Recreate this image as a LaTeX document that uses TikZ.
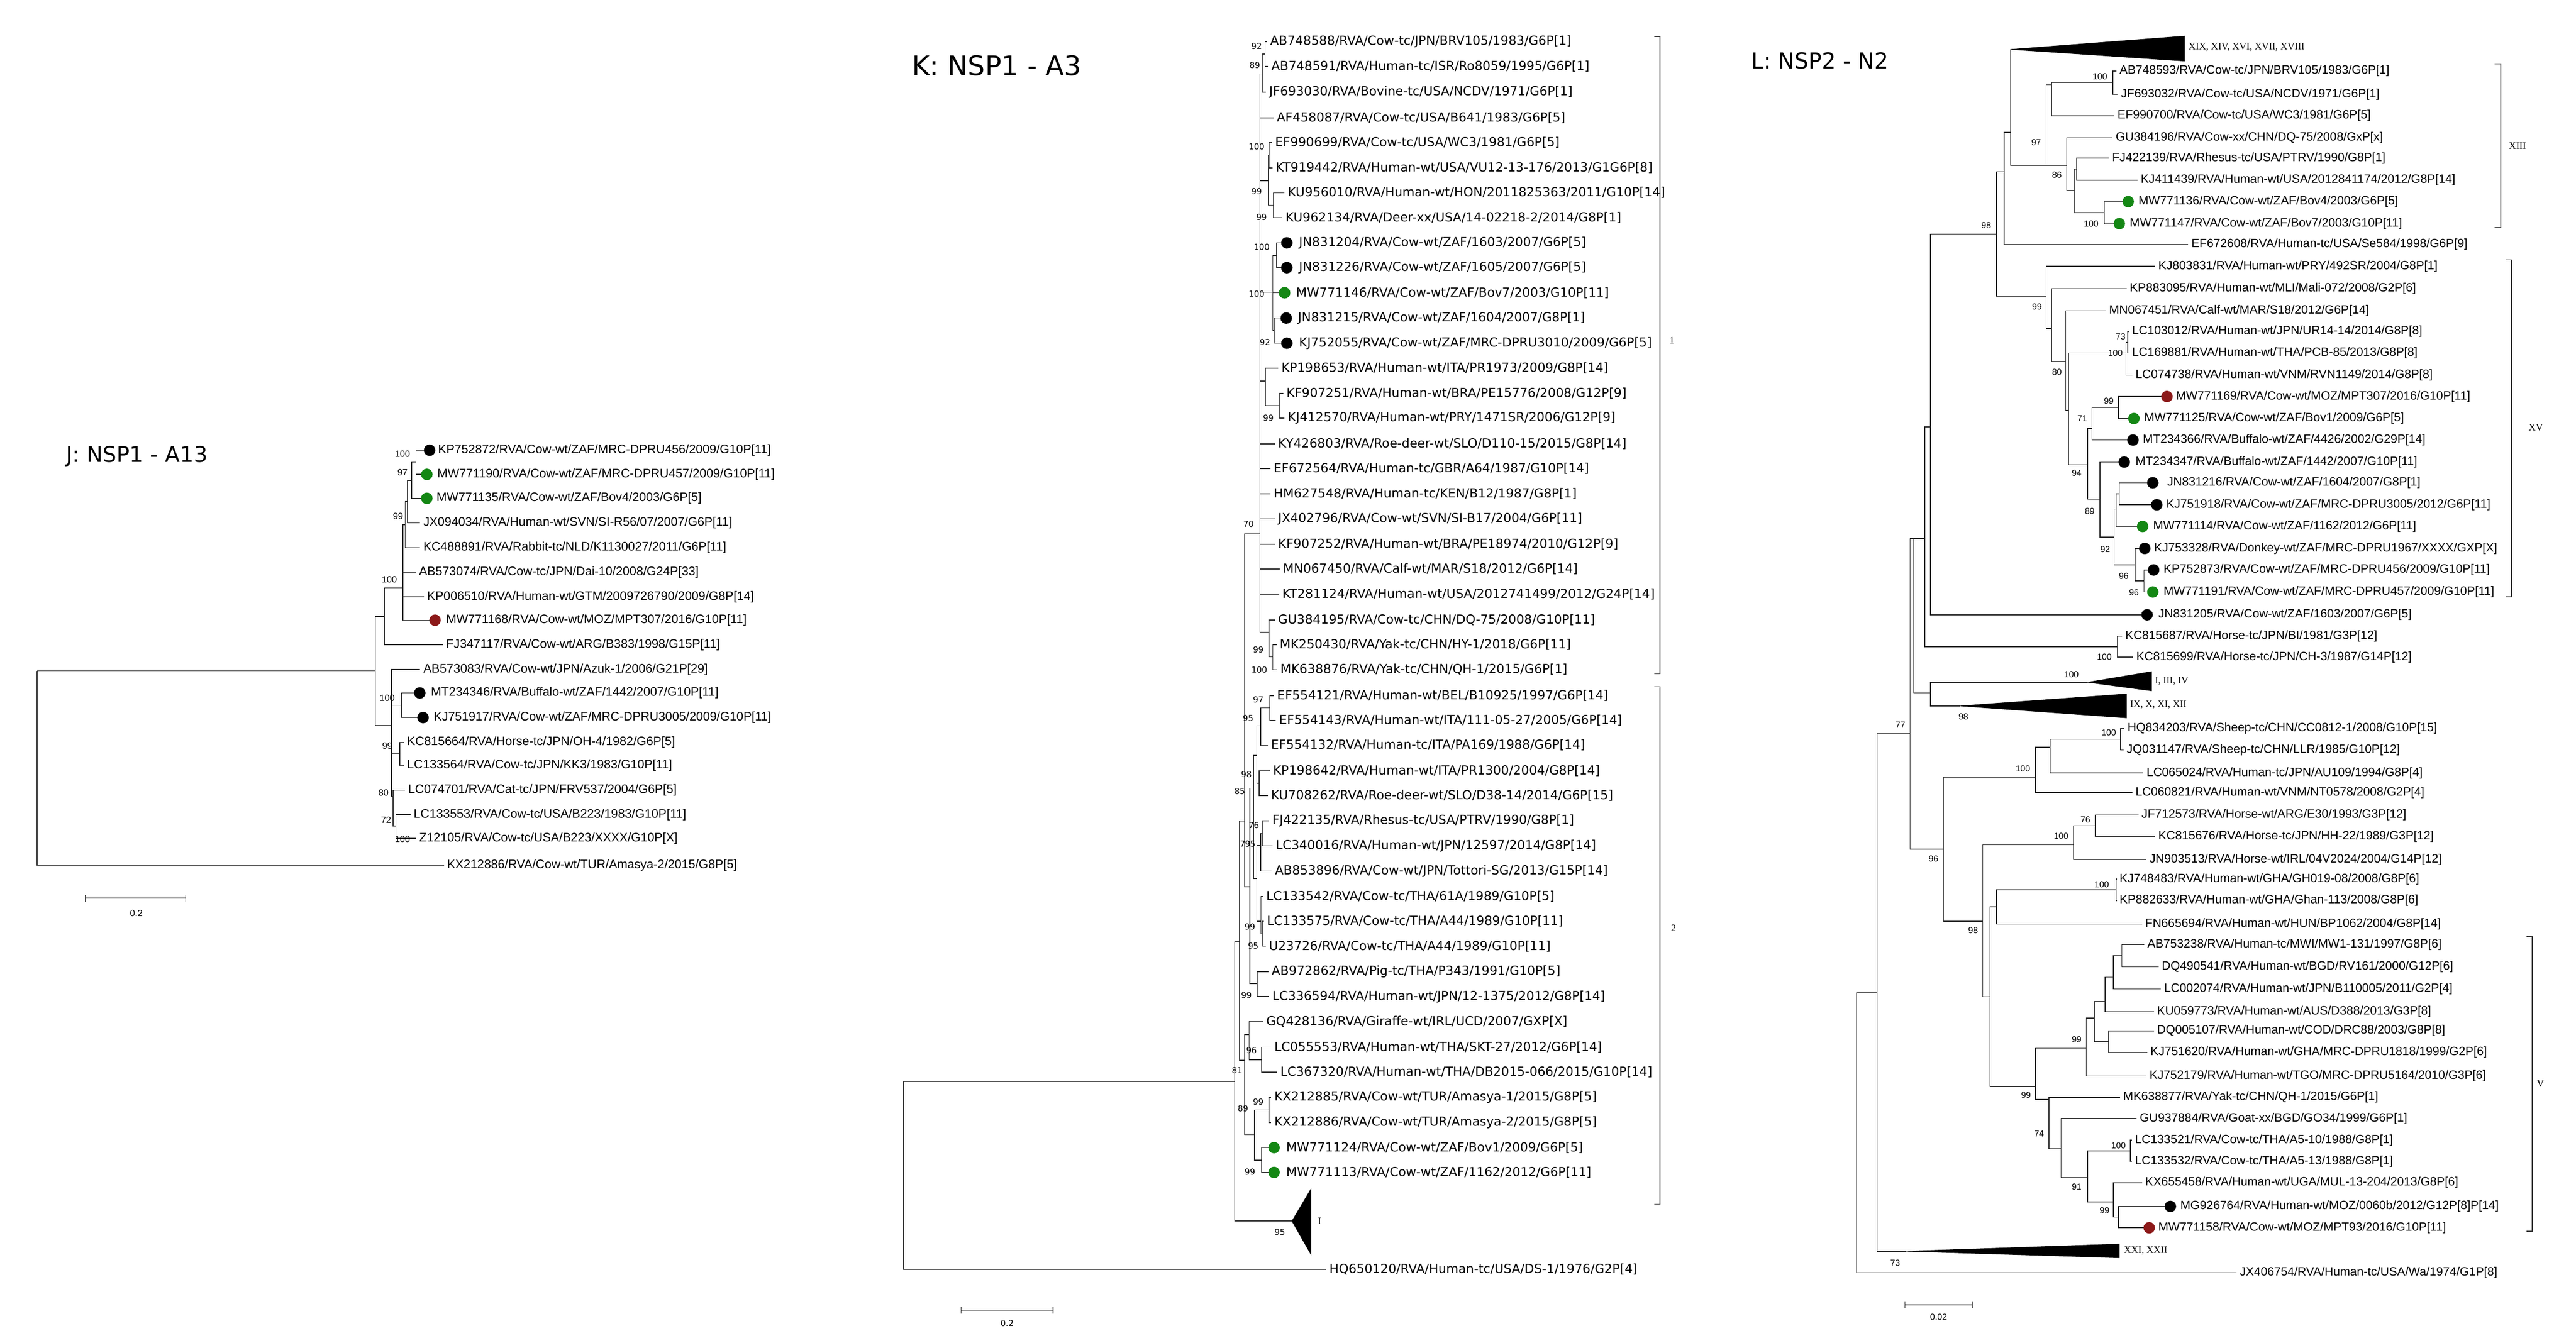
\documentclass[tikz,border=0pt]{standalone}
\usepackage{fontspec}
\setmainfont{Liberation Sans}
\newfontfamily\dv{DejaVu Sans}
\newfontfamily\lsans{Liberation Sans}
\newfontfamily\lser{Liberation Serif}
\definecolor{dgreen}{RGB}{20,135,20}
\definecolor{dred}{RGB}{140,25,25}
\newcounter{bsc}
\newcommand\pl[5]{\coordinate (#1) at ({#2-1.8},#3); \node[#5] (#1-t) at (#2,#3) {#4};}
\newcommand\dl[7]{\coordinate (#1) at ({#2-3.4},#3); \node[dotn,fill=#7] (#1-d) at (#2,#3) {}; \node[#6] (#1-t) at (#4,#3) {#5};}
\newcommand\bs[4]{\stepcounter{bsc}\node[#4] (bs\arabic{bsc}) at (#1,#2) {#3};}
\newcommand\brs[2]{\foreach \c in {#2}{\draw[brl] (#1) |- (\c);}}
\tikzset{
 brl/.style={line width=0.5pt,black!85},
 dotn/.style={circle,inner sep=0pt,minimum size=7pt,draw=none},
 jl/.style={font={\fontsize{7.5}{8}\selectfont\lsans},anchor=west,inner sep=0pt},
 kl/.style={font={\fontsize{7.6}{8}\selectfont\dv},anchor=west,inner sep=0pt},
 ll/.style={font={\fontsize{7.35}{8}\selectfont\lsans},anchor=west,inner sep=0pt},
 jb/.style={font={\fontsize{5.5}{6}\selectfont\lsans},inner sep=0pt},
 kb/.style={font={\fontsize{5}{6}\selectfont\dv},inner sep=0pt},
 lb/.style={font={\fontsize{5.3}{6}\selectfont\lsans},inner sep=0pt},
 trl/.style={font={\fontsize{6}{7}\selectfont\lser},anchor=west,inner sep=0pt},
 ttl/.style={font=\dv,anchor=west,inner sep=0pt},
 tri/.style={fill=black,draw=black,line width=0.3pt},
 brk/.style={line width=0.5pt,black!80},
}
\begin{document}
\begin{tikzpicture}[x=1pt,y=-1pt]
\useasboundingbox[fill=white] (0,0) rectangle (1568,817.8);
%% ================= J =================
\node[ttl,font={\fontsize{13.2}{15}\selectfont\dv}] (jtitle) at (40,278) {J: NSP1 - A13};
\dl{jl1}{261.5}{274.2}{266.5}{KP752872/RVA/Cow-wt/ZAF/MRC-DPRU456/2009/G10P[11]}{jl}{black}
\dl{jl2}{259.8}{288.9}{266}{MW771190/RVA/Cow-wt/ZAF/MRC-DPRU457/2009/G10P[11]}{jl}{dgreen}
\dl{jl3}{259.8}{303.5}{265.5}{MW771135/RVA/Cow-wt/ZAF/Bov4/2003/G6P[5]}{jl}{dgreen}
\pl{jl4}{257.5}{318.5}{JX094034/RVA/Human-wt/SVN/SI-R56/07/2007/G6P[11]}{jl}
\pl{jl5}{257.5}{333.5}{KC488891/RVA/Rabbit-tc/NLD/K1130027/2011/G6P[11]}{jl}
\pl{jl6}{254.9}{348.5}{AB573074/RVA/Cow-tc/JPN/Dai-10/2008/G24P[33]}{jl}
\pl{jl7}{259.8}{363.5}{KP006510/RVA/Human-wt/GTM/2009726790/2009/G8P[14]}{jl}
\dl{jl8}{264.8}{377.7}{271.4}{MW771168/RVA/Cow-wt/MOZ/MPT307/2016/G10P[11]}{jl}{dred}
\pl{jl9}{271.4}{392.7}{FJ347117/RVA/Cow-wt/ARG/B383/1998/G15P[11]}{jl}
\pl{jl10}{257.5}{407.7}{AB573083/RVA/Cow-wt/JPN/Azuk-1/2006/G21P[29]}{jl}
\dl{jl11}{255.5}{422}{262.2}{MT234346/RVA/Buffalo-wt/ZAF/1442/2007/G10P[11]}{jl}{black}
\dl{jl12}{257.5}{437}{263.8}{KJ751917/RVA/Cow-wt/ZAF/MRC-DPRU3005/2009/G10P[11]}{jl}{black}
\pl{jl13}{247.6}{452}{KC815664/RVA/Horse-tc/JPN/OH-4/1982/G6P[5]}{jl}
\pl{jl14}{247.6}{466.2}{LC133564/RVA/Cow-tc/JPN/KK3/1983/G10P[11]}{jl}
\pl{jl15}{248.3}{481.2}{LC074701/RVA/Cat-tc/JPN/FRV537/2004/G6P[5]}{jl}
\pl{jl16}{251.6}{496.2}{LC133553/RVA/Cow-tc/USA/B223/1983/G10P[11]}{jl}
\pl{jl17}{255}{510.5}{Z12105/RVA/Cow-tc/USA/B223/XXXX/G10P[X]}{jl}
\pl{jl18}{272}{527}{KX212886/RVA/Cow-wt/TUR/Amasya-2/2015/G8P[5]}{jl}
\coordinate (jR) at (22.5,408.5);
\coordinate (jA) at (228.4,408.5);
\coordinate (jUp) at (234,375.3);
\coordinate (jB100) at (245.3,358);
\coordinate (j99b) at (246.6,319.5);
\coordinate (j99a) at (248,305.5);
\coordinate (j97) at (250.6,292.5);
\coordinate (j100a) at (253.2,281.5);
\coordinate (jB) at (238.3,441.7);
\coordinate (j100c) at (244.3,429.5);
\coordinate (j99c) at (243.3,459);
\coordinate (j80) at (239.3,485);
\coordinate (j72) at (241,503);
\brs{j100a}{jl1,jl2}
\brs{j97}{j100a,jl3}
\brs{j99a}{j97,jl4}
\brs{j99b}{j99a,jl5}
\brs{jB100}{j99b,jl6,jl7,jl8}
\brs{jUp}{jB100,jl9}
\brs{jA}{jUp,jB}
\brs{jB}{jl10,j100c,j99c,j80}
\brs{j100c}{jl11,jl12}
\brs{j99c}{jl13,jl14}
\brs{j80}{jl15,j72}
\brs{j72}{jl16,jl17}
\brs{jR}{jA,jl18}
\bs{245}{276.3}{100}{jb}\bs{245}{287.7}{97}{jb}\bs{242.3}{314.5}{99}{jb}
\bs{237}{352.9}{100}{jb}\bs{235.7}{425.1}{100}{jb}\bs{235.7}{454.3}{99}{jb}
\bs{233.4}{482.8}{80}{jb}\bs{235}{499.4}{72}{jb}\bs{245}{511}{100}{jb}
\coordinate (jsb1) at (52,547); \coordinate (jsb2) at (113,547);
\draw[brl] (jsb1) -- (jsb2);
\draw[brl] (52,545) -- (52,549) (113,545) -- (113,549);
\node[jb] (jsbl) at (83,556) {0.2};
%% ================= K =================
\node[ttl,font={\fontsize{16.5}{18}\selectfont\dv}] (ktitle) at (555,40) {K: NSP1 - A3};
\pl{kAB1}{773}{25.4}{AB748588/RVA/Cow-tc/JPN/BRV105/1983/G6P[1]}{kl}
\pl{kAB2}{773.7}{40.5}{AB748591/RVA/Human-tc/ISR/Ro8059/1995/G6P[1]}{kl}
\pl{kJF}{772.4}{56.2}{JF693030/RVA/Bovine-tc/USA/NCDV/1971/G6P[1]}{kl}
\pl{kAF}{777}{71.8}{AF458087/RVA/Cow-tc/USA/B641/1983/G6P[5]}{kl}
\pl{kEF}{776}{86.9}{EF990699/RVA/Cow-tc/USA/WC3/1981/G6P[5]}{kl}
\pl{kKT}{776.3}{102.3}{KT919442/RVA/Human-wt/USA/VU12-13-176/2013/G1G6P[8]}{kl}
\pl{kKU1}{783.7}{117.4}{KU956010/RVA/Human-wt/HON/2011825363/2011/G10P[14]}{kl}
\pl{kKU2}{782.3}{132.5}{KU962134/RVA/Deer-xx/USA/14-02218-2/2014/G8P[1]}{kl}
\dl{kJN04}{783.3}{147.9}{790.5}{JN831204/RVA/Cow-wt/ZAF/1603/2007/G6P[5]}{kl}{black}
\dl{kJN26}{783.3}{163}{790.5}{JN831226/RVA/Cow-wt/ZAF/1605/2007/G6P[5]}{kl}{black}
\dl{kMW46}{781.9}{178.3}{788.8}{MW771146/RVA/Cow-wt/ZAF/Bov7/2003/G10P[11]}{kl}{dgreen}
\dl{kJN15}{782.9}{193.7}{789.9}{JN831215/RVA/Cow-wt/ZAF/1604/2007/G8P[1]}{kl}{black}
\dl{kKJ55}{783.3}{209}{790.5}{KJ752055/RVA/Cow-wt/ZAF/MRC-DPRU3010/2009/G6P[5]}{kl}{black}
\pl{kKP53}{779.8}{224.2}{KP198653/RVA/Human-wt/ITA/PR1973/2009/G8P[14]}{kl}
\pl{kKF51}{782.9}{239.6}{KF907251/RVA/Human-wt/BRA/PE15776/2008/G12P[9]}{kl}
\pl{kKJ12}{783.7}{254.7}{KJ412570/RVA/Human-wt/PRY/1471SR/2006/G12P[9]}{kl}
\pl{kKY}{777.8}{270.3}{KY426803/RVA/Roe-deer-wt/SLO/D110-15/2015/G8P[14]}{kl}
\pl{kEF64}{775.1}{285.4}{EF672564/RVA/Human-tc/GBR/A64/1987/G10P[14]}{kl}
\pl{kHM}{775.1}{300.8}{HM627548/RVA/Human-tc/KEN/B12/1987/G8P[1]}{kl}
\pl{kJX}{777.8}{315.9}{JX402796/RVA/Cow-wt/SVN/SI-B17/2004/G6P[11]}{kl}
\pl{kKF52}{777.8}{331.5}{KF907252/RVA/Human-wt/BRA/PE18974/2010/G12P[9]}{kl}
\pl{kMN}{780.8}{346.6}{MN067450/RVA/Calf-wt/MAR/S18/2012/G6P[14]}{kl}
\pl{kKT24}{780.4}{362}{KT281124/RVA/Human-wt/USA/2012741499/2012/G24P[14]}{kl}
\pl{kGU}{777.8}{377.6}{GU384195/RVA/Cow-tc/CHN/DQ-75/2008/G10P[11]}{kl}
\pl{kMK30}{778.8}{392.7}{MK250430/RVA/Yak-tc/CHN/HY-1/2018/G6P[11]}{kl}
\pl{kMK76}{779.2}{407.8}{MK638876/RVA/Yak-tc/CHN/QH-1/2015/G6P[1]}{kl}
\pl{kEF21}{777.2}{423.6}{EF554121/RVA/Human-wt/BEL/B10925/1997/G6P[14]}{kl}
\pl{kEF43}{778.4}{438.7}{EF554143/RVA/Human-wt/ITA/111-05-27/2005/G6P[14]}{kl}
\pl{kEF32}{773.5}{453.9}{EF554132/RVA/Human-tc/ITA/PA169/1988/G6P[14]}{kl}
\pl{kKP42}{774.7}{469.3}{KP198642/RVA/Human-wt/ITA/PR1300/2004/G8P[14]}{kl}
\pl{kKU08}{773.5}{484.5}{KU708262/RVA/Roe-deer-wt/SLO/D38-14/2014/G6P[15]}{kl}
\pl{kFJ}{774.3}{499.9}{FJ422135/RVA/Rhesus-tc/USA/PTRV/1990/G8P[1]}{kl}
\pl{kLC16}{776.3}{515.1}{LC340016/RVA/Human-wt/JPN/12597/2014/G8P[14]}{kl}
\pl{kAB96}{775.9}{530.5}{AB853896/RVA/Cow-wt/JPN/Tottori-SG/2013/G15P[14]}{kl}
\pl{kLC42}{770.6}{545.9}{LC133542/RVA/Cow-tc/THA/61A/1989/G10P[5]}{kl}
\pl{kLC75}{771}{561.1}{LC133575/RVA/Cow-tc/THA/A44/1989/G10P[11]}{kl}
\pl{kU23}{772.2}{576.3}{U23726/RVA/Cow-tc/THA/A44/1989/G10P[11]}{kl}
\pl{kAB62}{773.9}{591.7}{AB972862/RVA/Pig-tc/THA/P343/1991/G10P[5]}{kl}
\pl{kLC94}{774.3}{606.9}{LC336594/RVA/Human-wt/JPN/12-1375/2012/G8P[14]}{kl}
\pl{kGQ}{770.6}{622}{GQ428136/RVA/Giraffe-wt/IRL/UCD/2007/GXP[X]}{kl}
\pl{kLC53}{775.5}{637.7}{LC055553/RVA/Human-wt/THA/SKT-27/2012/G6P[14]}{kl}
\pl{kLC20}{779.2}{652.9}{LC367320/RVA/Human-wt/THA/DB2015-066/2015/G10P[14]}{kl}
\pl{kKX85}{775.5}{668.3}{KX212885/RVA/Cow-wt/TUR/Amasya-1/2015/G8P[5]}{kl}
\pl{kKX86}{775.5}{683.7}{KX212886/RVA/Cow-wt/TUR/Amasya-2/2015/G8P[5]}{kl}
\dl{kMW24}{775.5}{698.9}{782.7}{MW771124/RVA/Cow-wt/ZAF/Bov1/2009/G6P[5]}{kl}{dgreen}
\dl{kMW13}{775.5}{714}{782.7}{MW771113/RVA/Cow-wt/ZAF/1162/2012/G6P[11]}{kl}{dgreen}
\pl{kHQ}{809}{773}{HQ650120/RVA/Human-tc/USA/DS-1/1976/G2P[4]}{kl}
\coordinate (kC1) at (766.9,325);
\coordinate (kn89) at (768.5,45); \coordinate (kn92) at (770,33);
\coordinate (kn99a) at (772,110); \coordinate (kn100) at (772.6,94.6); \coordinate (kn99b) at (775.1,125);
\coordinate (kn100c) at (774.7,178); \coordinate (kn100d) at (777,155.5); \coordinate (kn92b) at (775.5,201.4);
\coordinate (knKP) at (770.4,232); \coordinate (kn99c) at (778.8,247);
\coordinate (knGU) at (772.4,385); \coordinate (kn99d) at (774.7,400);
\coordinate (kn70) at (757.7,500); \coordinate (knC) at (760.8,540);
\coordinate (kn85) at (763,480); \coordinate (kn99l) at (765.2,599);
\coordinate (knA1) at (765,460); \coordinate (knB1) at (765,535);
\coordinate (kn95) at (767.3,442); \coordinate (kn98) at (766.5,477); \coordinate (kn97) at (772.8,431);
\coordinate (kn95b) at (767.3,515); \coordinate (kn99k) at (767.5,561);
\coordinate (kn76) at (768.5,507.5); \coordinate (kn95c) at (768.5,568.7);
\coordinate (knX) at (754.6,573.6); \coordinate (knLow) at (757.7,645.7);
\coordinate (knG) at (760.3,630); \coordinate (kn89b) at (763.6,691);
\coordinate (kn96) at (767.9,645.3); \coordinate (kn99m) at (772.4,676); \coordinate (kn99n) at (767.9,706.5);
\coordinate (kn81) at (751.5,658.5); \coordinate (kTri) at (786.4,743.6);
\coordinate (kR) at (550,658.5);
\brs{kn92}{kAB1,kAB2}
\brs{kn89}{kn92,kJF}
\brs{kn100}{kEF,kKT}
\brs{kn99b}{kKU1,kKU2}
\brs{kn99a}{kn100,kn99b}
\brs{kn100d}{kJN04,kJN26}
\brs{kn92b}{kJN15,kKJ55}
\brs{kn100c}{kn100d,kMW46,kn92b}
\brs{kn99c}{kKF51,kKJ12}
\brs{knKP}{kKP53,kn99c}
\brs{kn99d}{kMK30,kMK76}
\brs{knGU}{kGU,kn99d}
\brs{kC1}{kn89,kAF,kn99a,kn100c,knKP,kKY,kEF64,kHM,kJX,kKF52,kMN,kKT24,knGU}
\brs{kn97}{kEF21,kEF43}
\brs{kn95}{kn97,kEF32}
\brs{kn98}{kKP42,kKU08}
\brs{knA1}{kn95,kn98}
\brs{kn76}{kFJ,kLC16}
\brs{kn95b}{kn76,kAB96}
\brs{kn95c}{kLC75,kU23}
\brs{kn99k}{kLC42,kn95c}
\brs{knB1}{kn95b,kn99k}
\brs{kn85}{knA1,knB1}
\brs{kn99l}{kAB62,kLC94}
\brs{knC}{kn85,kn99l}
\brs{kn70}{kC1,knC}
\brs{kn96}{kLC53,kLC20}
\brs{knG}{kGQ,kn96}
\brs{kn99m}{kKX85,kKX86}
\brs{kn99n}{kMW24,kMW13}
\brs{kn89b}{kn99m,kn99n}
\brs{knLow}{knG,kn89b}
\brs{knX}{kn70,knLow}
\brs{kn81}{knX,kTri}
\brs{kR}{kn81,kHQ}
\draw[tri] (kTri) -- (798,724) -- (798,764) -- cycle;
\node[trl] (kItxt) at (802,743.6) {I};
\bs{764.9}{28}{92}{kb}\bs{763.8}{39.8}{89}{kb}\bs{764.9}{89.3}{100}{kb}\bs{764.9}{116.6}{99}{kb}
\bs{767.9}{132.2}{99}{kb}\bs{768}{150.5}{100}{kb}\bs{764.9}{179}{100}{kb}\bs{770}{208.3}{92}{kb}
\bs{772}{254.7}{99}{kb}\bs{760}{319.3}{70}{kb}\bs{765.9}{395.8}{99}{kb}\bs{766.5}{407.8}{100}{kb}
\bs{765.9}{426}{97}{kb}\bs{759.7}{437.3}{95}{kb}\bs{758.7}{471.5}{98}{kb}\bs{754.6}{481.8}{85}{kb}
\bs{763.2}{502.6}{76}{kb}\bs{758}{514}{79}{kb}\bs{761}{514}{95}{kb}
\bs{760.8}{564.3}{99}{kb}\bs{762.8}{576}{95}{kb}\bs{758.7}{606.1}{99}{kb}\bs{761.8}{639.6}{96}{kb}
\bs{753}{651.9}{81}{kb}\bs{765.9}{671}{99}{kb}\bs{756.6}{675.1}{89}{kb}\bs{760.8}{713.8}{99}{kb}
\bs{779}{750.5}{95}{kb}
\draw[brk] (1006.8,22.3) -- (1010.4,22.3) -- (1010.4,410.4) -- (1006.8,410.4);
\node[trl] (kb1) at (1016,207.3) {1};
\draw[brk] (1006.8,418.2) -- (1010.4,418.2) -- (1010.4,733.4) -- (1006.8,733.4);
\node[trl] (kb2) at (1017,565) {2};
\coordinate (ksb1) at (585,798); \coordinate (ksb2) at (641,798);
\draw[brl] (ksb1) -- (ksb2);
\draw[brl] (585,796) -- (585,800) (641,796) -- (641,800);
\node[kb] (ksbl) at (613,806) {0.2};
%% ================= L =================
\node[ttl,font={\fontsize{13.4}{15}\selectfont\dv}] (ltitle) at (1066,37) {L: NSP2 - N2};
\pl{lAB93}{1290}{43.2}{AB748593/RVA/Cow-tc/JPN/BRV105/1983/G6P[1]}{ll}
\pl{lJF32}{1290.8}{57.4}{JF693032/RVA/Cow-tc/USA/NCDV/1971/G6P[1]}{ll}
\pl{lEF00}{1288.7}{70.5}{EF990700/RVA/Cow-tc/USA/WC3/1981/G6P[5]}{ll}
\pl{lGU96}{1287.6}{83.9}{GU384196/RVA/Cow-xx/CHN/DQ-75/2008/GxP[x]}{ll}
\pl{lFJ39}{1285.5}{96.3}{FJ422139/RVA/Rhesus-tc/USA/PTRV/1990/G8P[1]}{ll}
\pl{lKJ39}{1302.9}{109.7}{KJ411439/RVA/Human-wt/USA/2012841174/2012/G8P[14]}{ll}
\dl{lMW36}{1295.4}{122.8}{1301.5}{MW771136/RVA/Cow-wt/ZAF/Bov4/2003/G6P[5]}{ll}{dgreen}
\dl{lMW47}{1290}{136.2}{1296.2}{MW771147/RVA/Cow-wt/ZAF/Bov7/2003/G10P[11]}{ll}{dgreen}
\pl{lEF08}{1333.7}{148.8}{EF672608/RVA/Human-tc/USA/Se584/1998/G6P[9]}{ll}
\pl{lKJ31}{1313.6}{162.2}{KJ803831/RVA/Human-wt/PRY/492SR/2004/G8P[1]}{ll}
\pl{lKP95}{1296.2}{175.8}{KP883095/RVA/Human-wt/MLI/Mali-072/2008/G2P[6]}{ll}
\pl{lMN51}{1283.6}{189.2}{MN067451/RVA/Calf-wt/MAR/S18/2012/G6P[14]}{ll}
\pl{lLC12}{1297.6}{201.9}{LC103012/RVA/Human-wt/JPN/UR14-14/2014/G8P[8]}{ll}
\pl{lLC81}{1297.6}{215}{LC169881/RVA/Human-wt/THA/PCB-85/2013/G8P[8]}{ll}
\pl{lLC38}{1299.7}{228.4}{LC074738/RVA/Human-wt/VNM/RVN1149/2014/G8P[8]}{ll}
\dl{lMW69}{1319}{241.5}{1324.3}{MW771169/RVA/Cow-wt/MOZ/MPT307/2016/G10P[11]}{ll}{dred}
\dl{lMW25}{1298.9}{254.9}{1305}{MW771125/RVA/Cow-wt/ZAF/Bov1/2009/G6P[5]}{ll}{dgreen}
\dl{lMT66}{1298.3}{268}{1304.2}{MT234366/RVA/Buffalo-wt/ZAF/4426/2002/G29P[14]}{ll}{black}
\dl{lMT47}{1293}{281.4}{1299.7}{MT234347/RVA/Buffalo-wt/ZAF/1442/2007/G10P[11]}{ll}{black}
\dl{lJN16}{1310.4}{294}{1319}{JN831216/RVA/Cow-wt/ZAF/1604/2007/G8P[1]}{ll}{black}
\dl{lKJ18}{1312.8}{307.4}{1318.4}{KJ751918/RVA/Cow-wt/ZAF/MRC-DPRU3005/2012/G6P[11]}{ll}{black}
\dl{lMW14}{1304.2}{320.6}{1310.4}{MW771114/RVA/Cow-wt/ZAF/1162/2012/G6P[11]}{ll}{dgreen}
\dl{lKJ28}{1305.5}{334}{1311}{KJ753328/RVA/Donkey-wt/ZAF/MRC-DPRU1967/XXXX/GXP[X]}{ll}{black}
\dl{lKP73}{1310.9}{347.1}{1316.8}{KP752873/RVA/Cow-wt/ZAF/MRC-DPRU456/2009/G10P[11]}{ll}{black}
\dl{lMW91}{1310.4}{360.5}{1316.8}{MW771191/RVA/Cow-wt/ZAF/MRC-DPRU457/2009/G10P[11]}{ll}{dgreen}
\dl{lJN05}{1306.9}{374.4}{1313.6}{JN831205/RVA/Cow-wt/ZAF/1603/2007/G6P[5]}{ll}{black}
\pl{lKC87}{1293.5}{387.5}{KC815687/RVA/Horse-tc/JPN/BI/1981/G3P[12]}{ll}
\pl{lKC99}{1300.2}{400.2}{KC815699/RVA/Horse-tc/JPN/CH-3/1987/G14P[12]}{ll}
\pl{lHQ03}{1294.8}{443.7}{HQ834203/RVA/Sheep-tc/CHN/CC0812-1/2008/G10P[15]}{ll}
\pl{lJQ47}{1294.3}{456.7}{JQ031147/RVA/Sheep-tc/CHN/LLR/1985/G10P[12]}{ll}
\pl{lLC24}{1306.4}{470.8}{LC065024/RVA/Human-tc/JPN/AU109/1994/G8P[4]}{ll}
\pl{lLC21}{1299.7}{482.7}{LC060821/RVA/Human-wt/VNM/NT0578/2008/G2P[4]}{ll}
\pl{lJF73}{1303.4}{496.3}{JF712573/RVA/Horse-wt/ARG/E30/1993/G3P[12]}{ll}
\pl{lKC76}{1313.6}{509.3}{KC815676/RVA/Horse-tc/JPN/HH-22/1989/G3P[12]}{ll}
\pl{lJN13}{1308.2}{523.6}{JN903513/RVA/Horse-wt/IRL/04V2024/2004/G14P[12]}{ll}
\pl{lKJ83}{1290}{535.4}{KJ748483/RVA/Human-wt/GHA/GH019-08/2008/G8P[6]}{ll}
\pl{lKP33}{1290}{548.4}{KP882633/RVA/Human-wt/GHA/Ghan-113/2008/G8P[6]}{ll}
\pl{lFN94}{1305.6}{562.7}{FN665694/RVA/Human-wt/HUN/BP1062/2004/G8P[14]}{ll}
\pl{lAB38}{1306.9}{575.2}{AB753238/RVA/Human-tc/MWI/MW1-131/1997/G8P[6]}{ll}
\pl{lDQ41}{1315.7}{588.8}{DQ490541/RVA/Human-wt/BGD/RV161/2000/G12P[6]}{ll}
\pl{lLC74}{1317.1}{602.3}{LC002074/RVA/Human-wt/JPN/B110005/2011/G2P[4]}{ll}
\pl{lKU73}{1312.8}{616.1}{KU059773/RVA/Human-wt/AUS/D388/2013/G3P[8]}{ll}
\pl{lDQ07}{1312.8}{627.8}{DQ005107/RVA/Human-wt/COD/DRC88/2003/G8P[8]}{ll}
\pl{lKJ20}{1308.8}{640.9}{KJ751620/RVA/Human-wt/GHA/MRC-DPRU1818/1999/G2P[6]}{ll}
\pl{lKJ79}{1308.2}{655.2}{KJ752179/RVA/Human-wt/TGO/MRC-DPRU5164/2010/G3P[6]}{ll}
\pl{lMK77}{1292.2}{668.2}{MK638877/RVA/Yak-tc/CHN/QH-1/2015/G6P[1]}{ll}
\pl{lGU84}{1302.3}{681.2}{GU937884/RVA/Goat-xx/BGD/GO34/1999/G6P[1]}{ll}
\pl{lLC21b}{1299.4}{694.3}{LC133521/RVA/Cow-tc/THA/A5-10/1988/G8P[1]}{ll}
\pl{lLC32}{1299.4}{707.3}{LC133532/RVA/Cow-tc/THA/A5-13/1988/G8P[1]}{ll}
\pl{lKX58}{1305.6}{720.3}{KX655458/RVA/Human-wt/UGA/MUL-13-204/2013/G8P[6]}{ll}
\dl{lMG64}{1321.1}{734.7}{1327}{MG926764/RVA/Human-wt/MOZ/0060b/2012/G12P[8]P[14]}{ll}{black}
\dl{lMW58}{1308.2}{747.7}{1313.6}{MW771158/RVA/Cow-wt/MOZ/MPT93/2016/G10P[11]}{ll}{dred}
\pl{lJX54}{1363.2}{775}{JX406754/RVA/Human-tc/USA/Wa/1974/G1P[8]}{ll}
\coordinate (lTriTop) at (1223.8,30.1);
\coordinate (lnT) at (1223.8,80.6);
\coordinate (ln97) at (1245.5,100.8);
\coordinate (lnE) at (1248.7,51.6);
\coordinate (ln100a) at (1286,50.3);
\coordinate (ln86) at (1258,100.8);
\coordinate (ln510) at (1262.7,116);
\coordinate (lnFK) at (1264,103);
\coordinate (ln100b) at (1280.9,129.5);
\coordinate (lnS) at (1219.8,104.6);
\coordinate (ln98) at (1215.2,142.5);
\coordinate (lnXV) at (1245.5,180.4);
\coordinate (lnKP) at (1248.7,200);
\coordinate (ln80) at (1257.3,220);
\coordinate (lnQ) at (1259.2,250);
\coordinate (ln100L) at (1294,215);
\coordinate (ln73) at (1295.2,208.5);
\coordinate (ln94) at (1270.7,283);
\coordinate (ln71) at (1273.4,261);
\coordinate (ln99) at (1289.5,248.2);
\coordinate (ln89) at (1278.2,304);
\coordinate (ln92) at (1286.8,327);
\coordinate (lnJKM) at (1288.1,310);
\coordinate (lnJK) at (1290,300.7);
\coordinate (ln96b) at (1299.7,344);
\coordinate (ln96a) at (1305,353.8);
\coordinate (lnJ) at (1175,260);
\coordinate (lnKC) at (1288.7,393.9);
\coordinate (lnH) at (1171.6,328);
\coordinate (lTri1) at (1270.7,415.5);
\coordinate (lTri2) at (1193,429.9);
\coordinate (lnTr) at (1175,422);
\coordinate (lnG1) at (1164.9,328);
\coordinate (lnF) at (1162.7,446.8);
\coordinate (ln96L) at (1183.1,517.1);
\coordinate (ln100M) at (1239.1,473.4);
\coordinate (lnSheep) at (1248,455);
\coordinate (ln100HQ) at (1290.8,450.2);
\coordinate (ln98L) at (1206.9,561);
\coordinate (lnHorse) at (1262.1,514.5);
\coordinate (ln76) at (1275.3,502.8);
\coordinate (lnRest) at (1211.2,607);
\coordinate (lnGHA) at (1215.2,552.3);
\coordinate (ln100G) at (1288.1,541.9);
\coordinate (lnV) at (1239.1,661.7);
\coordinate (ln99V) at (1269.9,638.3);
\coordinate (lnV1) at (1274.7,620);
\coordinate (lnV2) at (1281.4,610);
\coordinate (lnV3) at (1286.3,595);
\coordinate (lnAB) at (1291.6,582);
\coordinate (lnDQ) at (1283.6,634.4);
\coordinate (ln74) at (1247.1,669.5);
\coordinate (ln74b) at (1254.6,699.5);
\coordinate (ln91) at (1270.7,717);
\coordinate (ln100LC) at (1296.7,700.8);
\coordinate (ln99M) at (1286.3,732);
\coordinate (lnMG) at (1289.5,741.2);
\coordinate (lTri3) at (1160,762);
\coordinate (ln73L) at (1142.6,604.4);
\coordinate (lR) at (1130,604.4);
\brs{ln100a}{lAB93,lJF32}
\brs{lnE}{ln100a,lEF00}
\brs{lnFK}{lFJ39,lKJ39}
\brs{ln100b}{lMW36,lMW47}
\brs{ln510}{lnFK,ln100b}
\brs{ln86}{lGU96,ln510}
\brs{ln97}{lnE,ln86}
\brs{lnT}{lTriTop,ln97}
\brs{lnS}{lnT,lEF08}
\brs{ln73}{lLC12,lLC81}
\brs{ln100L}{ln73,lLC38}
\brs{ln99}{lMW69,lMW25}
\brs{ln71}{ln99,lMT66}
\brs{lnJK}{lJN16,lKJ18}
\brs{lnJKM}{lnJK,lMW14}
\brs{ln96a}{lKP73,lMW91}
\brs{ln96b}{lKJ28,ln96a}
\brs{ln92}{lnJKM,ln96b}
\brs{ln89}{lMT47,ln92}
\brs{ln94}{ln71,ln89}
\brs{lnQ}{ln100L,ln94}
\brs{ln80}{lMN51,lnQ}
\brs{lnKP}{lKP95,ln80}
\brs{lnXV}{lKJ31,lnKP}
\brs{ln98}{lnS,lnXV}
\brs{lnJ}{ln98,lJN05}
\brs{lnKC}{lKC87,lKC99}
\brs{lnH}{lnJ,lnKC}
\brs{lnTr}{lTri1,lTri2}
\brs{lnG1}{lnH,lnTr}
\brs{ln100HQ}{lHQ03,lJQ47}
\brs{lnSheep}{ln100HQ,lLC24}
\brs{ln100M}{lnSheep,lLC21}
\brs{ln76}{lJF73,lKC76}
\brs{lnHorse}{ln76,lJN13}
\brs{ln100G}{lKJ83,lKP33}
\brs{lnGHA}{ln100G,lFN94}
\brs{lnAB}{lAB38,lDQ41}
\brs{lnV3}{lnAB,lLC74}
\brs{lnV2}{lnV3,lKU73}
\brs{lnDQ}{lDQ07,lKJ20}
\brs{lnV1}{lnV2,lnDQ}
\brs{ln99V}{lnV1,lKJ79}
\brs{ln100LC}{lLC21b,lLC32}
\brs{lnMG}{lMG64,lMW58}
\brs{ln99M}{lKX58,lnMG}
\brs{ln91}{ln100LC,ln99M}
\brs{ln74b}{lGU84,ln91}
\brs{ln74}{lMK77,ln74b}
\brs{lnV}{ln99V,ln74}
\brs{lnRest}{lnGHA,lnV}
\brs{ln98L}{lnHorse,lnRest}
\brs{ln96L}{ln100M,ln98L}
\brs{lnF}{lnG1,ln96L}
\brs{ln73L}{lnF,lTri3}
\brs{lR}{ln73L,lJX54}
\draw[tri] (lTriTop) -- (1329.7,22) -- (1329.7,37.2) -- cycle;
\draw[tri] (lTri1) -- (1309.6,409) -- (1309.6,420.7) -- cycle;
\draw[tri] (lTri2) -- (1294.3,422.6) -- (1294.3,437.2) -- cycle;
\draw[tri] (lTri3) -- (1290,757.6) -- (1290,766) -- cycle;
\node[trl] (lt1) at (1332,28.8) {XIX, XIV, XVI, XVII, XVIII};
\node[trl] (lt2) at (1311.5,414.8) {I, III, IV};
\node[trl] (lt3) at (1296.4,429.3) {IX, X, XI, XII};
\node[trl] (lt4) at (1292.7,761.5) {XXI, XXII};
\bs{1278.2}{46.5}{100}{lb}\bs{1239.4}{86.9}{97}{lb}\bs{1252}{106.6}{86}{lb}\bs{1272.9}{136.2}{100}{lb}
\bs{1209}{137.4}{98}{lb}\bs{1239.9}{186.7}{99}{lb}\bs{1290.8}{204.9}{73}{lb}\bs{1287.6}{215}{100}{lb}
\bs{1252}{226.6}{80}{lb}\bs{1283.6}{244.3}{99}{lb}\bs{1267.5}{254.9}{71}{lb}\bs{1264}{288.2}{94}{lb}
\bs{1272}{311.2}{89}{lb}\bs{1281.4}{334.5}{92}{lb}\bs{1292.7}{350.9}{96}{lb}\bs{1298.9}{361}{96}{lb}
\bs{1280.9}{400}{100}{lb}\bs{1260.8}{410.8}{100}{lb}\bs{1195.1}{436.4}{98}{lb}\bs{1156.8}{441.6}{77}{lb}
\bs{1283.6}{446}{100}{lb}\bs{1231.3}{468.2}{100}{lb}\bs{1269.4}{499.2}{76}{lb}\bs{1254.6}{509.3}{100}{lb}
\bs{1176.9}{522.9}{96}{lb}\bs{1279.3}{538.8}{100}{lb}\bs{1201}{566.6}{98}{lb}\bs{1264}{633}{99}{lb}
\bs{1233.2}{666.9}{99}{lb}\bs{1241.2}{690.4}{74}{lb}\bs{1289.5}{697.7}{100}{lb}\bs{1264}{722.9}{91}{lb}
\bs{1281}{737.3}{99}{lb}\bs{1153.6}{769}{73}{lb}
\draw[brk] (1518.5,38.9) -- (1522.1,38.9) -- (1522.1,138.7) -- (1518.5,138.7);
\node[trl] (lbx1) at (1527,88.9) {XIII};
\draw[brk] (1525.2,158.2) -- (1528.8,158.2) -- (1528.8,363.5) -- (1525.2,363.5);
\node[trl] (lbx2) at (1539,260.5) {XV};
\draw[brk] (1537.8,570.5) -- (1541.4,570.5) -- (1541.4,749.8) -- (1537.8,749.8);
\node[trl] (lbx3) at (1544,660) {V};
\coordinate (lsb1) at (1159.5,794.6); \coordinate (lsb2) at (1200.5,794.6);
\draw[brl] (lsb1) -- (lsb2);
\draw[brl] (1159.5,792.6) -- (1159.5,796.6) (1200.5,792.6) -- (1200.5,796.6);
\node[lb] (lsbl) at (1180,802) {0.02};
\end{tikzpicture}
\end{document}
